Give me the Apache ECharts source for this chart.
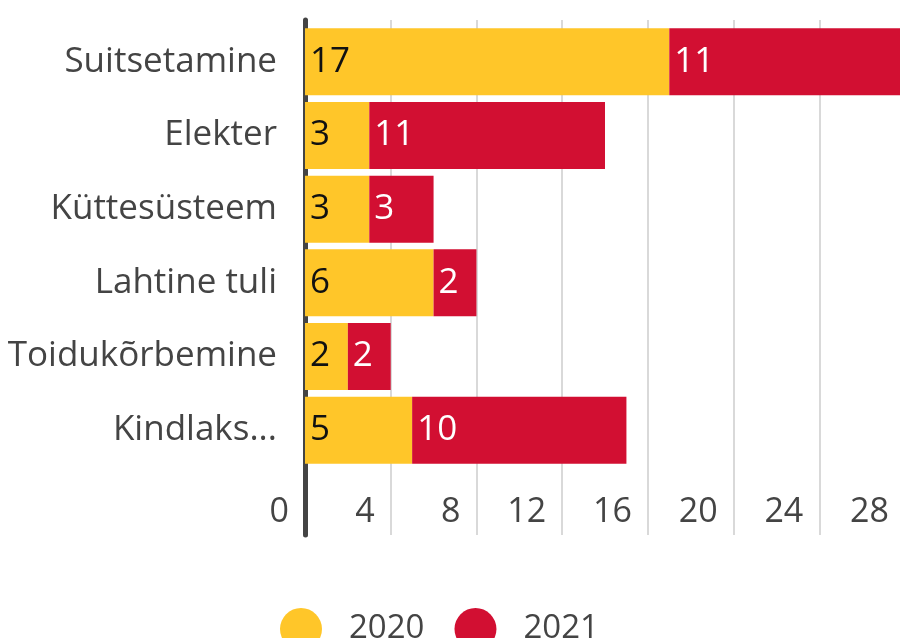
<!DOCTYPE html>
<html>
<head>
    <meta charset="utf-8">
    <title>Tulekahjude põhjused</title>
    <script src="https://cdn.jsdelivr.net/npm/echarts@6/dist/echarts.min.js"></script>
    <style>
        html, body { margin: 0; padding: 0; background: #fff; }
        #chart { width: 900px; height: 638px; }
    </style>
</head>
<body>
<div id="chart"></div>
<script type="text/javascript">
// andmed
var categories = ['Suitsetamine', 'Elekter', 'Küttesüsteem', 'Lahtine tuli', 'Toidukõrbemine', 'Kindlaks...'];
var values2020 = [17, 3, 3, 6, 2, 5];
var values2021 = [11, 11, 3, 2, 2, 10];
var seriesNames = ['2020', '2021'];
var xMin = 0, xMax = 28, xStep = 4;

var font = 'Open Sans';
var textColor = '#444';

var chart = echarts.init(document.getElementById('chart'));

var option = {
    animation: false,
    color: ['#FFC629', '#D20F32'],
    textStyle: { fontFamily: font },
    legend: {
        top: 603,
        left: 275,
        icon: 'circle',
        itemWidth: 42,
        itemHeight: 42,
        itemGap: 30,
        data: seriesNames,
        textStyle: { fontFamily: font, fontSize: 33, color: textColor, padding: [0, 0, 0, 22] }
    },
    grid: [
        // ribade ala (paremalt pildist veidi välja)
        { left: 305, width: 600, top: 25, bottom: 171, outerBoundsMode: 'none' },
        // ruudustik + telg (ulatub ribadest kaugemale)
        { left: 305, width: 600, top: 20, bottom: 103, outerBoundsMode: 'none' }
    ],
    xAxis: [
        { gridIndex: 0, type: 'value', min: xMin, max: xMax, interval: xStep, show: false },
        {
            gridIndex: 1, type: 'value', min: xMin, max: xMax, interval: xStep,
            axisLine: { show: false },
            axisTick: { show: false },
            splitLine: { show: true, lineStyle: { color: '#d9d9d9', width: 2 } },
            axisLabel: {
                inside: true, margin: 6, align: 'right',
                padding: [0, 16, 0, 0],
                fontFamily: font, fontSize: 34, color: textColor
            }
        }
    ],
    yAxis: [
        {
            gridIndex: 0, type: 'category', data: categories, inverse: true,
            axisLine: { show: false },
            axisTick: { show: false },
            axisLabel: { margin: 28, padding: [8, 0, 0, 0], fontFamily: font, fontSize: 35, color: textColor }
        },
        {
            gridIndex: 1, type: 'value', min: 0, max: 1, offset: 2,
            axisLine: { show: true, lineStyle: { color: '#444', width: 5 } },
            axisTick: { show: false },
            axisLabel: { show: false },
            splitLine: { show: false }
        }
    ],
    series: [
        {
            name: seriesNames[0], type: 'bar', stack: 'total',
            xAxisIndex: 0, yAxisIndex: 0,
            barCategoryGap: '9%',
            data: values2020,
            label: { show: true, position: 'insideLeft', distance: 5, fontFamily: font, fontSize: 35, color: '#111' }
        },
        {
            name: seriesNames[1], type: 'bar', stack: 'total',
            xAxisIndex: 0, yAxisIndex: 0,
            barCategoryGap: '9%',
            data: values2021,
            label: { show: true, position: 'insideLeft', distance: 5, fontFamily: font, fontSize: 35, color: '#fff' }
        }
    ]
};

chart.setOption(option);
</script>
</body>
</html>
